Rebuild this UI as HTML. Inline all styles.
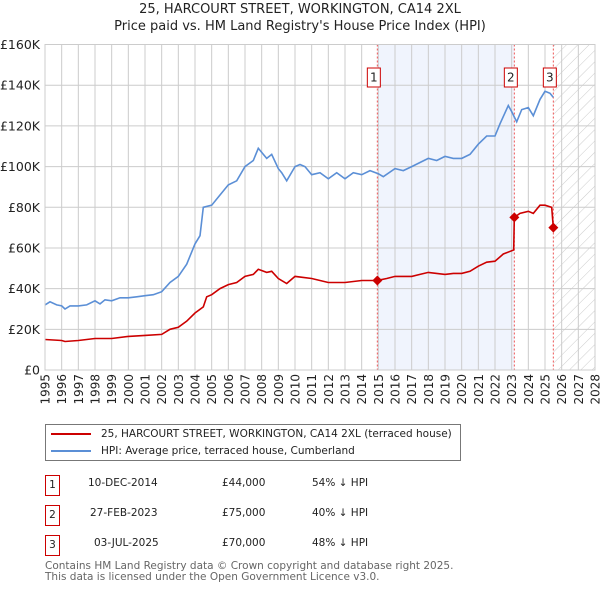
<!DOCTYPE html>
<html><head><meta charset="utf-8"><style>
body{margin:0;width:600px;height:590px;background:#fff;font-family:"Liberation Sans","DejaVu Sans",sans-serif;overflow:hidden}
svg{position:absolute;left:0;top:0}
text{font-family:"DejaVu Sans","Liberation Sans",sans-serif}
.t span{white-space:nowrap}
</style></head><body>
<svg width="600" height="590">
<defs><pattern id="hatch" width="8" height="8" patternUnits="userSpaceOnUse" patternTransform="rotate(45)"><line x1="0" y1="0" x2="0" y2="8" stroke="#ccc" stroke-width="1"/></pattern></defs>
<g id="g"></g>
</svg>
<script>
const years=[1995,1996,1997,1998,1999,2000,2001,2002,2003,2004,2005,2006,2007,2008,2009,2010,2011,2012,2013,2014,2015,2016,2017,2018,2019,2020,2021,2022,2023,2024,2025,2026,2027,2028];
const yTicks=[0,20000,40000,60000,80000,100000,120000,140000,160000];
const yTickLabels=["£0","£20K","£40K","£60K","£80K","£100K","£120K","£140K","£160K"];
const hpiT=[1995,1995.3,1995.7,1996,1996.2,1996.5,1997,1997.5,1998,1998.3,1998.6,1999,1999.5,2000,2000.5,2001,2001.5,2002,2002.5,2003,2003.5,2004,2004.3,2004.5,2005,2005.5,2006,2006.5,2007,2007.5,2007.8,2008.3,2008.6,2009,2009.2,2009.5,2010,2010.3,2010.6,2011,2011.5,2012,2012.5,2013,2013.5,2014,2014.5,2015,2015.3,2016,2016.5,2017,2017.5,2018,2018.5,2019,2019.5,2020,2020.5,2021,2021.5,2022,2022.3,2022.8,2023,2023.3,2023.6,2024,2024.3,2024.7,2025,2025.3,2025.5];
const hpiV=[32000,33500,32000,31500,30000,31500,31500,32000,34000,32500,34500,34000,35500,35500,36000,36500,37000,38500,43000,46000,52000,62000,66000,80000,81000,86000,91000,93000,100000,103000,109000,104000,106000,99000,97000,93000,100000,101000,100000,96000,97000,94000,97000,94000,97000,96000,98000,96500,95000,99000,98000,100000,102000,104000,103000,105000,104000,104000,106000,111000,115000,115000,121000,130000,127000,122000,128000,129000,125000,133000,137000,136000,134000];
const redT=[1995,1996,1996.2,1997,1998,1999,2000,2001,2002,2002.5,2003,2003.5,2004,2004.5,2004.7,2005,2005.5,2006,2006.5,2007,2007.5,2007.8,2008.3,2008.6,2009,2009.5,2010,2011,2012,2013,2014,2014.94,2015.5,2016,2017,2017.5,2018,2019,2019.5,2020,2020.5,2021,2021.5,2022,2022.5,2023.12,2023.16,2023.5,2024,2024.3,2024.7,2025,2025.4,2025.5];
const redV=[15000,14500,14000,14500,15500,15500,16500,17000,17500,20000,21000,24000,28000,31000,36000,37000,40000,42000,43000,46000,47000,49500,48000,48500,45000,42500,46000,45000,43000,43000,44000,44000,45000,46000,46000,47000,48000,47000,47500,47500,48500,51000,53000,53500,57000,59000,75000,77000,78000,77000,81000,81000,80000,70000];
const saleT=[2014.94,2023.16,2025.5];
const saleV=[44000,75000,70000];
const saleLabels=["1","2","3"];

const X0=45,X1=595,Y0=370,Y1=44.5;
const xs=t=>X0+(t-1995)/(2028-1995)*(X1-X0);
const ys=v=>Y0-v/160000*(Y0-Y1);
const g=document.getElementById('g');
const NS="http://www.w3.org/2000/svg";
function mk(tag,attrs,parent){const e=document.createElementNS(NS,tag);for(const k in attrs)e.setAttribute(k,attrs[k]);(parent||g).appendChild(e);return e;}
let e;
e=mk('rect',{x:xs(saleT[0]),y:Y1,width:xs(saleT[1])-xs(saleT[0]),height:Y0-Y1,fill:'#f0f4fd'});


e=mk('rect',{x:xs(saleT[2]),y:Y1,width:X1-xs(saleT[2]),height:Y0-Y1,fill:'url(#hatch)'});


years.forEach(y=>{e=mk('line',{x1:xs(y),x2:xs(y),y1:Y1,y2:Y0,stroke:'#ccc','stroke-width':1});


e=mk('text',{x:0,y:0,transform:`translate(${xs(y)+4.5},${Y0+4}) rotate(-90)`,'text-anchor':'end','font-size':12,fill:'#222'});e.textContent=y;

});
yTicks.forEach((v,i)=>{e=mk('line',{x1:X0,x2:X1,y1:ys(v),y2:ys(v),stroke:'#ccc','stroke-width':1});


e=mk('text',{x:40,y:ys(v)+4.5,'text-anchor':'end','font-size':12.5,fill:'#222'});e.textContent=yTickLabels[i];

});
saleT.forEach((t,i)=>{e=mk('line',{x1:xs(t),x2:xs(t),y1:Y1,y2:Y0,stroke:'#e55','stroke-width':1,'stroke-dasharray':'2,2'});


e=mk('rect',{x:xs(t)-10,y:68,width:13,height:19,fill:'#fff',stroke:'#c00','stroke-width':1});


e=mk('text',{x:xs(t)-3.5,y:81.5,'text-anchor':'middle','font-size':12,fill:'#222'});e.textContent=saleLabels[i];

});
e=mk('path',{d:hpiT.map((t,i)=>(i?'L':'M')+xs(t).toFixed(1)+','+ys(hpiV[i]).toFixed(1)).join(''),fill:'none',stroke:'#5b8fd6','stroke-width':1.6});


e=mk('path',{d:redT.map((t,i)=>(i?'L':'M')+xs(t).toFixed(1)+','+ys(redV[i]).toFixed(1)).join(''),fill:'none',stroke:'#cc0000','stroke-width':1.6});


saleT.forEach((t,i)=>{const cx=xs(t),cy=ys(saleV[i]);e=mk('path',{d:`M${cx},${cy-5}L${cx+5},${cy}L${cx},${cy+5}L${cx-5},${cy}Z`,fill:'#cc0000'});

});
e=mk('rect',{x:X0,y:Y1,width:X1-X0,height:Y0-Y1,fill:'none',stroke:'#ccc'});


</script>
<div style="position:absolute;left:0;width:600px;top:1px;text-align:center;font-size:13px;line-height:17px;color:#222;font-family:'DejaVu Sans',sans-serif">25, HARCOURT STREET, WORKINGTON, CA14 2XL<br>Price paid vs. HM Land Registry's House Price Index (HPI)</div>
<div style="position:absolute;left:45px;top:424px;width:414px;height:35px;border:1px solid #777;font-family:'DejaVu Sans',sans-serif;font-size:10.5px;color:#222">
<div style="position:absolute;left:5px;top:3px;white-space:nowrap"><span style="display:inline-block;width:40px;height:2px;background:#cc0000;vertical-align:middle;margin-right:10px"></span>25, HARCOURT STREET, WORKINGTON, CA14 2XL (terraced house)</div>
<div style="position:absolute;left:5px;top:20px;white-space:nowrap"><span style="display:inline-block;width:40px;height:2px;background:#5b8fd6;vertical-align:middle;margin-right:10px"></span>HPI: Average price, terraced house, Cumberland</div>
</div>
<div class="t" style="position:absolute;left:0;top:0;font-family:'DejaVu Sans',sans-serif;font-size:10.5px;color:#222">
<div><span style="position:absolute;left:45px;top:475px;width:13px;height:19px;border:1px solid #c00;text-align:center;line-height:18px">1</span><span style="position:absolute;left:88px;top:477px">10-DEC-2014</span><span style="position:absolute;left:222px;top:477px">£44,000</span><span style="position:absolute;left:312px;top:477px">54% ↓ HPI</span></div>
<div><span style="position:absolute;left:45px;top:505px;width:13px;height:19px;border:1px solid #c00;text-align:center;line-height:18px">2</span><span style="position:absolute;left:90px;top:507px">27-FEB-2023</span><span style="position:absolute;left:222px;top:507px">£75,000</span><span style="position:absolute;left:312px;top:507px">40% ↓ HPI</span></div>
<div><span style="position:absolute;left:45px;top:535px;width:13px;height:19px;border:1px solid #c00;text-align:center;line-height:18px">3</span><span style="position:absolute;left:94px;top:537px">03-JUL-2025</span><span style="position:absolute;left:222px;top:537px">£70,000</span><span style="position:absolute;left:312px;top:537px">48% ↓ HPI</span></div>
</div>
<div style="position:absolute;left:45px;top:561px;font-family:'DejaVu Sans',sans-serif;font-size:10.5px;line-height:10.5px;color:#666;white-space:nowrap">Contains HM Land Registry data © Crown copyright and database right 2025.<br>This data is licensed under the Open Government Licence v3.0.</div>
</body></html>
